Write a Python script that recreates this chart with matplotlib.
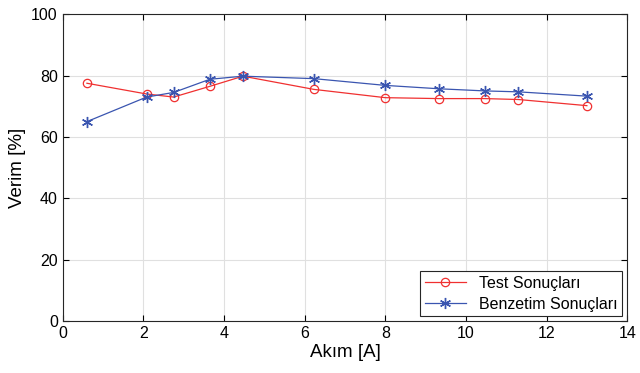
import matplotlib
matplotlib.use("Agg")
import matplotlib.pyplot as plt

# Veriler
akim = [0.6, 2.08, 2.75, 3.65, 4.47, 6.23, 8.0, 9.33, 10.47, 11.3, 13.0]
test_verim = [77.5, 74.0, 73.0, 76.5, 79.8, 75.5, 72.8, 72.5, 72.5, 72.2, 70.2]
benzetim_verim = [65.0, 73.0, 74.5, 78.8, 79.8, 79.0, 76.8, 75.7, 75.0, 74.7, 73.3]
x_ticks = [0, 2, 4, 6, 8, 10, 12, 14]
y_ticks = [0, 20, 40, 60, 80, 100]

plt.rcParams['font.family'] = ['Liberation Sans', 'DejaVu Sans']

fig = plt.figure(figsize=(6.4, 3.73), dpi=100)
ax = fig.add_axes([0.098, 0.139, 0.882, 0.823])

ax.plot(akim, test_verim, color='#F03030', lw=0.9, marker='o', ms=6,
        mfc='none', mec='#F03030', mew=0.9, label='Test Sonuçları')
# MATLAB tarzı yıldız işareti (asterisk)
ax.plot(akim, benzetim_verim, color='#3A55B0', lw=0.9, marker=(6, 2, 0), ms=8,
        mec='#3A55B0', mew=1.0, label='Benzetim Sonuçları')

ax.set_xlim(0, 14)
ax.set_ylim(0, 100)
ax.set_xticks(x_ticks)
ax.set_yticks(y_ticks)
ax.grid(True, color='#E0E0E0', lw=0.8)
ax.set_axisbelow(True)
ax.tick_params(direction='in', labelsize=11.5, length=4, top=True, right=True,
               labeltop=False, labelright=False)
for s in ax.spines.values():
    s.set_color('#262626')
    s.set_linewidth(0.8)

ax.set_xlabel('Akım [A]', fontsize=13.5, labelpad=2)
ax.set_ylabel('Verim [%]', fontsize=13.5, labelpad=4)

leg = ax.legend(loc='lower right', fontsize=11.5, fancybox=False, framealpha=1,
                edgecolor='#262626', handlelength=2.6, borderpad=0.3,
                labelspacing=0.35, borderaxespad=0.3)
leg.get_frame().set_linewidth(0.8)

fig.savefig('out.png', dpi=100)
